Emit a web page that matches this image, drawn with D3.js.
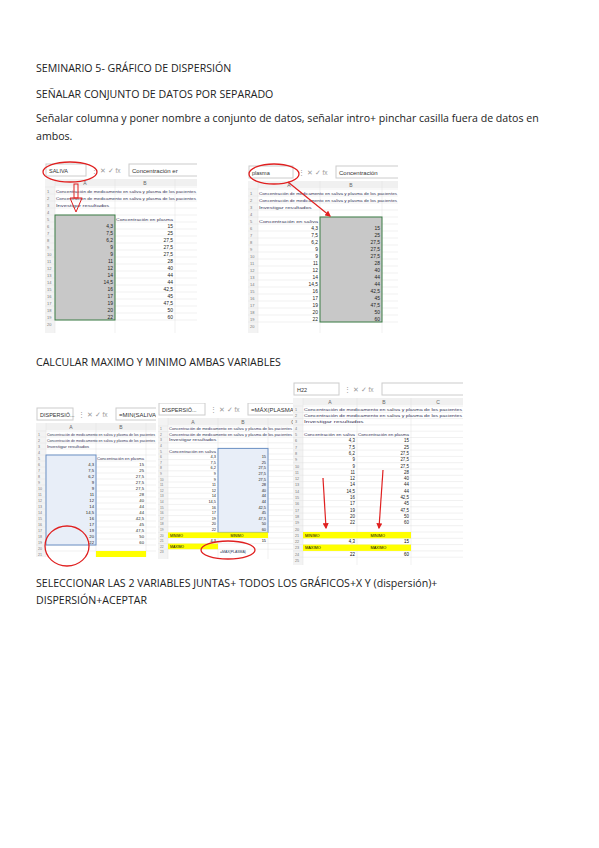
<!DOCTYPE html><html><head><meta charset="utf-8"><script src="https://cdn.jsdelivr.net/npm/d3@7"></script>
<style>body{margin:0;background:#fff}</style></head><body><svg id="s" width="599" height="848"></svg>
<script>
const headings=[
 {t:"SEMINARIO 5- GRÁFICO DE DISPERSIÓN",y:72},
 {t:"SEÑALAR CONJUNTO DE DATOS POR SEPARADO",y:98},
 {t:"Señalar columna y poner nombre a conjunto de datos, señalar intro+ pinchar casilla fuera de datos en",y:122},
 {t:"ambos.",y:140},
 {t:"CALCULAR MAXIMO Y MINIMO AMBAS VARIABLES",y:366},
 {t:"SELECCIONAR LAS 2 VARIABLES JUNTAS+ TODOS LOS GRÁFICOS+X Y (dispersión)+",y:587},
 {t:"DISPERSIÓN+ACEPTAR",y:604}];
const saliva=["4,3","7,5","6,2","9","9","11","12","14","14,5","16","17","19","20","22"];
const plasma=["15","25","27,5","27,5","27,5","28","40","44","44","42,5","45","47,5","50","60"];
const names=["SALIVA","plasma","DISPERSIÓ...","DISPERSIÓ...","H22"];
const formulas=["Concentración er","Concentración","=MIN(SALIVA)","=MÁX(PLASMA)",""];
const svg=d3.select("#s");
const defs=svg.append("defs");
svg.selectAll("text.h").data(headings).join("text").attr("x",36).attr("y",d=>d.y)
 .attr("font-family","Open Sans, sans-serif").attr("font-size",10.6).attr("fill","#222").text(d=>d.t);

function panel(cfg){
 const {x,y,w,h}=cfg;
 const clip="clp"+cfg.id;
 defs.append("clipPath").attr("id",clip).append("rect").attr("x",x).attr("y",y).attr("width",w).attr("height",h);
 const G=svg.append("g").attr("font-family","Arial, sans-serif").attr("clip-path",`url(#${clip})`);
 G.append("rect").attr("x",x).attr("y",y).attr("width",w).attr("height",h).attr("fill","#fff");
 const ty=y+cfg.top;
 G.append("rect").attr("x",x+1).attr("y",ty).attr("width",cfg.nb).attr("height",12).attr("fill","#fff").attr("stroke","#ccc");
 G.append("text").attr("x",x+4).attr("y",ty+9).attr("font-size",5.5).attr("fill","#333").text(names[cfg.id]);
 G.append("text").attr("x",x+cfg.nb+6).attr("y",ty+9).attr("font-size",6.5).attr("fill","#999").text("⋮ ✕ ✓ fx");
 G.append("rect").attr("x",x+cfg.nb+44).attr("y",ty).attr("width",w).attr("height",12).attr("fill","#fff").attr("stroke","#ccc");
 G.append("text").attr("x",x+cfg.nb+47).attr("y",ty+9).attr("font-size",6).attr("fill","#333").text(formulas[cfg.id]);
 const gy=ty+15, rh=cfg.rh, rowNum=10;
 const cols=[x+rowNum,x+rowNum+cfg.cw,x+rowNum+2*cfg.cw,x+rowNum+3*cfg.cw];
 G.append("rect").attr("x",x).attr("y",gy).attr("width",w).attr("height",7).attr("fill","#f0f0f0");
 G.append("rect").attr("x",x).attr("y",gy).attr("width",rowNum).attr("height",h).attr("fill","#f3f3f3");
 ["A","B","C","D"].forEach((c,i)=>G.append("text").attr("x",cols[i]+cfg.cw/2).attr("y",gy+6).attr("font-size",5).attr("fill","#666").attr("text-anchor","middle").text(c));
 const r0=gy+8;
 const nrows=Math.floor((y+h-r0)/rh);
 for(let i=0;i<nrows;i++){
  G.append("line").attr("x1",x).attr("x2",x+w).attr("y1",r0+i*rh).attr("y2",r0+i*rh).attr("stroke","#e3e3e3").attr("stroke-width",0.5);
  G.append("text").attr("x",x+2).attr("y",r0+i*rh+rh-1.5).attr("font-size",Math.min(4,rh*0.6)).attr("fill","#777").text(i+1);
 }
 cols.forEach(cx=>G.append("line").attr("x1",cx).attr("x2",cx).attr("y1",gy).attr("y2",y+h).attr("stroke","#e3e3e3").attr("stroke-width",0.5));
 [0,1,2].forEach(i=>G.append("text").attr("x",cols[0]+1).attr("y",r0+i*rh+rh-1.5).attr("font-size",rh*0.62).attr("fill","#335").attr("textLength",i<2?w-12:w*0.35).attr("lengthAdjust","spacingAndGlyphs").text(i<2?"Concentración de medicamento en saliva y plasma de los pacientes":"Investigar resultados"));
 const hr=cfg.hdr;
 [0,1].forEach(k=>G.append("text").attr("x",cols[k]+1).attr("y",r0+hr*rh+rh-1.5).attr("font-size",rh*0.62).attr("fill","#335").attr("textLength",cfg.cw-3).attr("lengthAdjust","spacingAndGlyphs").text(k?"Concentración en plasma":"Concentración en saliva"));
 const yS=d3.scaleBand().domain(d3.range(saliva.length)).range([r0+(hr+1)*rh,r0+(hr+1+saliva.length)*rh]);
 if(cfg.sel!=null){
  G.append("rect").attr("x",cols[cfg.sel]).attr("y",r0+hr*rh).attr("width",cfg.cw).attr("height",(saliva.length+1)*rh)
   .attr("fill",cfg.selFill).attr("stroke",cfg.selStroke).attr("stroke-width",1);
 }
 [saliva,plasma].forEach((arr,ci)=>G.selectAll(null).data(arr).join("text").attr("x",cols[ci+1]-2).attr("y",(d,i)=>yS(i)+rh-1.5)
  .attr("text-anchor","end").attr("font-size",rh*0.7).attr("fill","#222").text(d=>d));
 (cfg.yellow||[]).forEach(yr=>{
   const yy=r0+yr.r*rh;
   G.append("rect").attr("x",cols[yr.c]).attr("y",yy).attr("width",cfg.cw*yr.n).attr("height",rh).attr("fill","#ffff00");
   if(yr.t) G.append("text").attr("x",cols[yr.c]+2).attr("y",yy+rh-1.5).attr("font-size",rh*0.62).text(yr.t);
   if(yr.t2) G.append("text").attr("x",cols[1]+cfg.cw*0.25).attr("y",yy+rh-1.5).attr("font-size",rh*0.62).text(yr.t2);
   if(yr.v){const vy=yy+rh;G.append("text").attr("x",cols[1]-2).attr("y",vy+rh-1.5).attr("text-anchor","end").attr("font-size",rh*0.7).text(yr.v[0]);
     G.append("text").attr("x",cols[2]-2).attr("y",vy+rh-1.5).attr("text-anchor","end").attr("font-size",rh*0.7).text(yr.v[1]);}
 });
 if(cfg.formula){const yy=r0+cfg.formula.r*rh;
  G.append("text").attr("x",cols[cfg.formula.c]+2).attr("y",yy+rh-1.5).attr("font-size",rh*0.62).attr("fill","#235").text(cfg.formula.t);}
}
panel({id:0,x:45,y:155,w:152,h:178,top:9,nb:40,cw:60,rh:7,hdr:4,sel:0,selFill:"#c8c8c8",selStroke:"#3a7d44"});
panel({id:1,x:248,y:155,w:150,h:178,top:11,nb:44,cw:62,rh:7,hdr:4,sel:1,selFill:"#c8c8c8",selStroke:"#3a7d44"});
panel({id:2,x:36,y:405,w:120,h:152,top:3,nb:36,cw:50,rh:6,hdr:4,sel:0,selFill:"#e8eef8",selStroke:"#6b8fc4",
 yellow:[{r:20,c:1,n:1}],formula:{r:21,c:0,t:"=MIN(SALIVA)"}});
panel({id:3,x:158,y:403,w:135,h:156,top:0,nb:46,cw:50,rh:5.6,hdr:4,sel:1,selFill:"#e8eef8",selStroke:"#6b8fc4",
 yellow:[{r:19,c:0,n:2,t:"MÍNIMO",t2:"MÍNIMO",v:["4,3","15"]},{r:21,c:0,n:1,t:"MÁXIMO"}],formula:{r:22,c:1,t:"=MÁX(PLASMA)"}});
panel({id:4,x:293,y:380,w:170,h:185,top:3,nb:45,cw:54,rh:6.3,hdr:4,sel:null,
 yellow:[{r:20,c:0,n:2,t:"MÍNIMO",t2:"MÍNIMO",v:["4,3","15"]},{r:22,c:0,n:2,t:"MÁXIMO",t2:"MÁXIMO",v:["22","60"]}]});
const red="#e02020";
function ell(cx,cy,rx,ry){svg.append("ellipse").attr("cx",cx).attr("cy",cy).attr("rx",rx).attr("ry",ry).attr("fill","none").attr("stroke",red).attr("stroke-width",1.3);}
defs.append("marker").attr("id","ar").attr("viewBox","0 0 10 10").attr("refX",8).attr("refY",5)
 .attr("markerWidth",5).attr("markerHeight",5).attr("orient","auto").append("path").attr("d","M0,0L10,5L0,10z").attr("fill",red);
function arrow(x1,y1,x2,y2){svg.append("line").attr("x1",x1).attr("y1",y1).attr("x2",x2).attr("y2",y2).attr("stroke",red).attr("stroke-width",1.2).attr("marker-end","url(#ar)");}
ell(70,172,27,10); ell(274,174,25,10);
svg.append("rect").attr("x",74).attr("y",184).attr("width",4).attr("height",14).attr("fill","none").attr("stroke",red);
svg.append("path").attr("d","M70,198L82,198L76,212Z").attr("fill","none").attr("stroke",red);
arrow(288,182,330,216);
ell(67,546,22,20); ell(228,550,27,9);
arrow(323,478,326,528); arrow(383,470,379,528);
</script></body></html>
